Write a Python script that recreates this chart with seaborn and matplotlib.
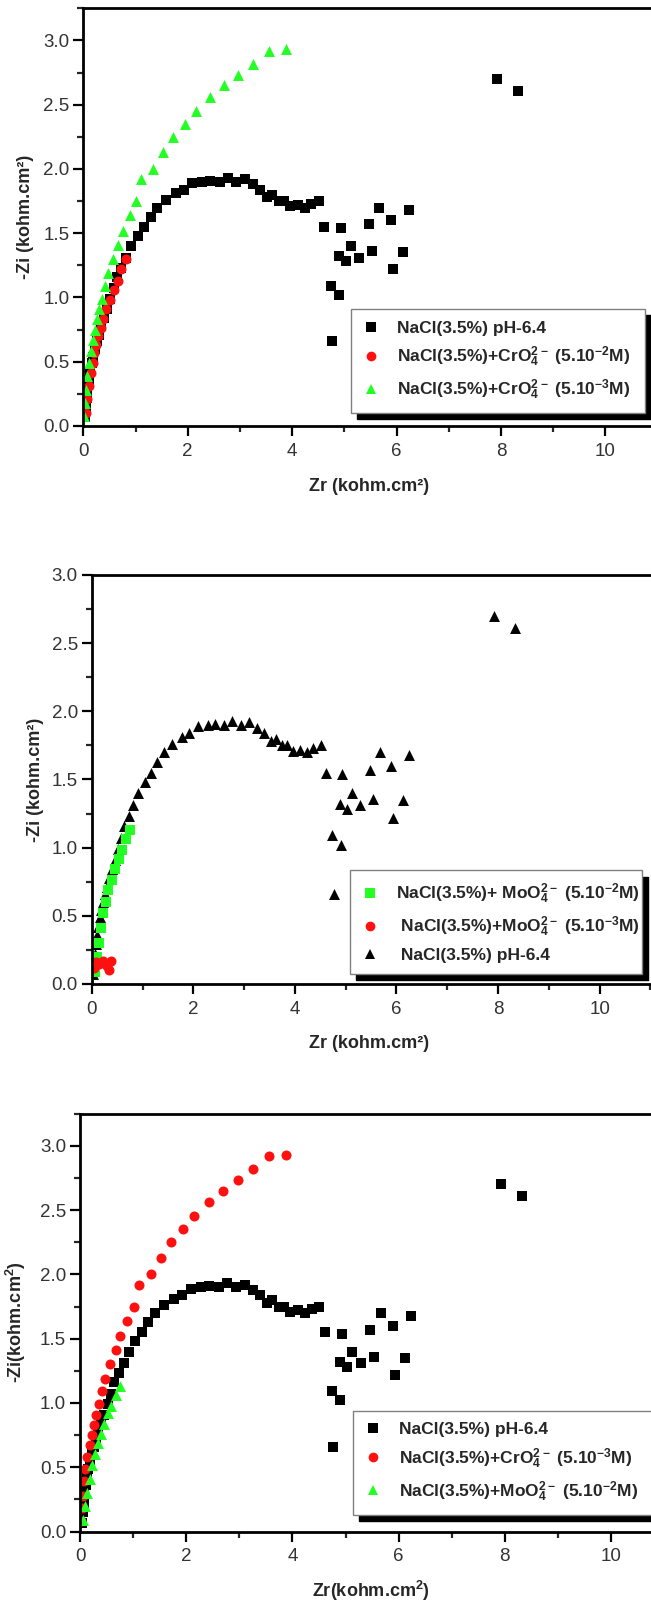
import matplotlib
matplotlib.use("Agg")
import matplotlib.pyplot as plt
from matplotlib.lines import Line2D
from matplotlib.ticker import MultipleLocator
import pandas as pd
import seaborn as sns

# ---- Nyquist data (kohm.cm2) ----
# NaCl 3.5 %, pH 6.4 (blank)
zr_blank = [0.03, 0.05, 0.07, 0.08, 0.11, 0.13, 0.16, 0.19, 0.23, 0.26, 0.30, 0.34,
            0.39, 0.46, 0.52, 0.58, 0.64, 0.73, 0.82, 0.92, 1.04, 1.16, 1.29, 1.42,
            1.59, 1.77, 1.92, 2.09, 2.28, 2.42, 2.61, 2.77, 2.93, 3.10, 3.25, 3.39,
            3.52, 3.62, 3.74, 3.85, 3.96, 4.11, 4.24, 4.36, 4.51, 4.61, 4.93, 4.89,
            5.03, 5.13, 5.29, 5.47, 5.53, 5.67, 5.89, 5.94, 6.12, 6.24, 4.74, 4.90,
            4.76, 7.92, 8.33]
zi_blank = [0.07, 0.15, 0.22, 0.29, 0.36, 0.42, 0.49, 0.54, 0.60, 0.66, 0.71, 0.78,
            0.84, 0.91, 0.99, 1.07, 1.16, 1.23, 1.31, 1.40, 1.48, 1.55, 1.63, 1.70,
            1.76, 1.81, 1.84, 1.89, 1.90, 1.91, 1.90, 1.93, 1.90, 1.92, 1.88, 1.84,
            1.78, 1.80, 1.75, 1.75, 1.71, 1.72, 1.70, 1.73, 1.75, 1.55, 1.54, 1.32,
            1.28, 1.40, 1.31, 1.57, 1.36, 1.70, 1.60, 1.22, 1.35, 1.68, 1.09, 1.02,
            0.66, 2.70, 2.61]

# NaCl + CrO4(2-) 5.10^-3 M
zr_cro4_3 = [0.02, 0.04, 0.06, 0.08, 0.10, 0.14, 0.18, 0.22, 0.26, 0.30, 0.35, 0.41,
             0.48, 0.56, 0.67, 0.76, 0.89, 1.01, 1.11, 1.33, 1.52, 1.71, 1.94, 2.15,
             2.42, 2.69, 2.97, 3.26, 3.56, 3.88]
zi_cro4_3 = [0.08, 0.18, 0.28, 0.39, 0.49, 0.58, 0.67, 0.75, 0.83, 0.91, 0.99, 1.09,
             1.19, 1.30, 1.41, 1.52, 1.64, 1.75, 1.92, 2.00, 2.13, 2.25, 2.35, 2.45,
             2.56, 2.65, 2.73, 2.82, 2.92, 2.93]

# NaCl + CrO4(2-) 5.10^-2 M
zr_cro4_2 = [0.05, 0.07, 0.10, 0.14, 0.18, 0.20, 0.25, 0.29, 0.33, 0.38, 0.44, 0.51,
             0.58, 0.66, 0.73, 0.82]
zi_cro4_2 = [0.10, 0.21, 0.31, 0.41, 0.49, 0.57, 0.63, 0.70, 0.76, 0.83, 0.91, 0.98,
             1.06, 1.13, 1.22, 1.30]

# NaCl + MoO4(2-) 5.10^-2 M
zr_moo4_2 = [0.06, 0.10, 0.14, 0.19, 0.23, 0.28, 0.33, 0.39, 0.45, 0.53, 0.59, 0.67, 0.76]
zi_moo4_2 = [0.09, 0.20, 0.30, 0.41, 0.52, 0.60, 0.69, 0.76, 0.84, 0.92, 0.98, 1.06, 1.13]

# NaCl + MoO4(2-) 5.10^-3 M
zr_moo4_3 = [0.05, 0.09, 0.15, 0.23, 0.29, 0.31, 0.35, 0.38]
zi_moo4_3 = [0.12, 0.16, 0.15, 0.17, 0.15, 0.13, 0.10, 0.17]

# ---- style ----
sns.set_style("ticks")
plt.rcParams["font.family"] = ["Liberation Sans", "DejaVu Sans"]
plt.rcParams["mathtext.default"] = "regular"

BLACK = "#000000"
RED = "#ff1010"
GREEN = "#22ff22"
TICK_COLOR = "#333333"

W, H = 651, 1602
fig = plt.figure(figsize=(W / 100, H / 100), dpi=100)


def frame(left, top, bottom, px_per_unit, xmax, ymax):
    width = xmax * px_per_unit
    ax = fig.add_axes([left / W, 1 - bottom / H, width / W, (bottom - top) / H])
    ax.set_xlim(0, xmax)
    ax.set_ylim(0, ymax)
    ax.xaxis.set_major_locator(MultipleLocator(2))
    ax.xaxis.set_minor_locator(MultipleLocator(1))
    ax.yaxis.set_major_locator(MultipleLocator(0.5))
    ax.yaxis.set_minor_locator(MultipleLocator(0.25))
    ax.yaxis.set_major_formatter(matplotlib.ticker.FormatStrFormatter("%.1f"))
    for s in ax.spines.values():
        s.set_linewidth(2.0)
        s.set_color("black")
    ax.tick_params(which="major", direction="out", length=7, width=1.6,
                   labelsize=13.5, labelcolor=TICK_COLOR, color="black",
                   top=False, right=False)
    ax.tick_params(axis="x", which="major", pad=5)
    ax.tick_params(axis="y", which="major", pad=3)
    ax.tick_params(which="minor", direction="out", length=4.5, width=1.6,
                   top=False, right=False)
    return ax


def series(ax, zr, zi, marker, color, size):
    df = pd.DataFrame({"Zr": zr, "Zi": zi})
    sns.scatterplot(data=df, x="Zr", y="Zi", ax=ax, marker=marker, color=color,
                    s=size, linewidth=0, clip_on=True, legend=False)


def handle(marker, color, ms):
    return Line2D([], [], linestyle="none", marker=marker, color=color,
                  markersize=ms, markeredgewidth=0)


def legend(ax, handles, labels, bbox):
    leg = ax.legend(handles, labels, loc="lower left", bbox_to_anchor=bbox,
                    mode="expand", prop={"weight": "bold", "size": 12.5},
                    frameon=True, fancybox=False, framealpha=1,
                    edgecolor="#808080", borderpad=0.65, labelspacing=0.5,
                    handlelength=1.0, handletextpad=1.0, borderaxespad=0,
                    shadow={"color": "black", "alpha": 1, "ox": 4.5, "oy": -4.5})
    leg.get_frame().set_linewidth(1.0)
    return leg


def labels(ax, xlabel, ylabel, xlab_x, xlab_y, ylab_x):
    ax.set_xlabel(xlabel, fontsize=13, fontweight="bold")
    ax.set_ylabel(ylabel, fontsize=13, fontweight="bold")
    ax.xaxis.set_label_coords(xlab_x, xlab_y)
    ax.yaxis.set_label_coords(ylab_x, 0.5)


lab_blank = "NaCl(3.5%) pH-6.4"
lab_cr2 = "NaCl(3.5%)+CrO$_4^{2-}$ (5.10$^{-2}$M)"
lab_cr3 = "NaCl(3.5%)+CrO$_4^{2-}$ (5.10$^{-3}$M)"
lab_mo2 = "NaCl(3.5%)+MoO$_4^{2-}$ (5.10$^{-2}$M)"
lab_mo3 = "NaCl(3.5%)+MoO$_4^{2-}$ (5.10$^{-3}$M)"

# ---- panel 1: chromate ----
ax1 = frame(83.3, 8.3, 426, 52.2, 11.2, 3.25)
series(ax1, zr_blank, zi_blank, "s", BLACK, 42)
series(ax1, zr_cro4_2, zi_cro4_2, "o", RED, 52)
series(ax1, zr_cro4_3, zi_cro4_3, "^", GREEN, 62)
legend(ax1,
       [handle("s", BLACK, 6.5), handle("o", RED, 7), handle("^", GREEN, 7.5)],
       [lab_blank, lab_cr2, lab_cr3],
       (0.458, 0.031, 0.503, 0.239))
labels(ax1, "Zr (kohm.cm²)", "-Zi (kohm.cm²)", 0.489, -0.125, -0.084)

# ---- panel 2: molybdate ----
ax2 = frame(91.7, 575, 984, 50.8, 11.2, 3.0)
series(ax2, zr_blank, zi_blank, "^", BLACK, 62)
series(ax2, zr_moo4_2, zi_moo4_2, "s", GREEN, 42)
series(ax2, zr_moo4_3, zi_moo4_3, "o", RED, 52)
legend(ax2,
       [handle("s", GREEN, 6.5), handle("o", RED, 7), handle("^", BLACK, 7.5)],
       ["NaCl(3.5%)+ MoO$_4^{2-}$ (5.10$^{-2}$M)", " " + lab_mo3, " " + lab_blank],
       (0.454, 0.024, 0.513, 0.237))
labels(ax2, "Zr (kohm.cm²)", "-Zi (kohm.cm²)", 0.487, -0.125, -0.084)

# ---- panel 3: chromate vs molybdate ----
ax3 = frame(80, 1113.6, 1531.6, 53.1, 11.2, 3.25)
series(ax3, zr_blank, zi_blank, "s", BLACK, 42)
series(ax3, zr_cro4_3, zi_cro4_3, "o", RED, 52)
series(ax3, zr_moo4_2, zi_moo4_2, "^", GREEN, 62)
legend(ax3,
       [handle("s", BLACK, 6.5), handle("o", RED, 7), handle("^", GREEN, 7.5)],
       [lab_blank, lab_cr3, lab_mo2],
       (0.459, 0.040, 0.51, 0.225))
labels(ax3, "Zr(kohm.cm$^2$)", "-Zi(kohm.cm$^2$)", 0.489, -0.112, -0.088)

fig.savefig("out.png", dpi=100, facecolor="white")
